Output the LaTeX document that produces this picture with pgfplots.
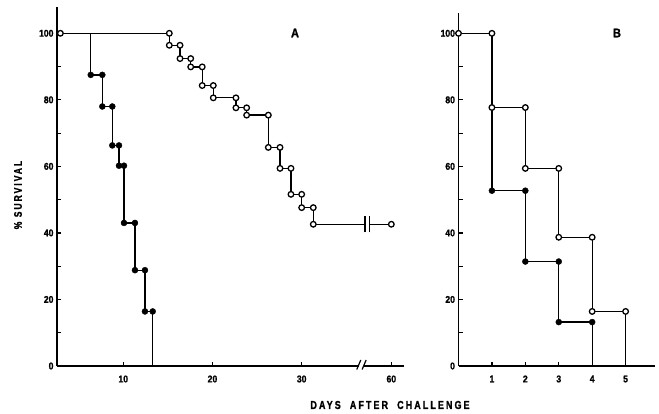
\documentclass[border=0pt]{standalone}
\usepackage{fontspec}
\setmainfont{Liberation Sans}
\newfontfamily\tickfont[FakeStretch=0.88,FakeBold=1.2]{Liberation Sans}
\newfontfamily\labfont[FakeStretch=0.78,LetterSpace=18,FakeBold=1.2]{Liberation Sans}
\usepackage{pgfplots}
\pgfplotsset{compat=1.18}
\pgfplotsset{
  panel/.style={
    scale only axis,
    axis x line=bottom, axis y line=left,
    axis line style={-, line width=1.4pt},
    tick style={line width=1.2pt, black},
    tick align=inside,
    major tick length=4pt, minor tick length=4pt,
    ymin=0,
    ytick={0,20,...,100},
    minor ytick={10,30,50,70,90},
    ticklabel style={font=\tickfont\bfseries\fontsize{9.8}{10}\selectfont},
    xticklabel style={yshift=-6pt},
    /pgf/number format/assume math mode=true,
    clip=false,
  },
  dataline/.style={black, line width=1.3pt, no marks},
  fdots/.style={only marks, mark=*, mark size=3pt, black},
  odots/.style={only marks, mark=*, mark size=2.8pt, black, mark options={fill=white, line width=1.3pt}},
}
\begin{document}
\begin{tikzpicture}
\path[use as bounding box] (0,0) rectangle (659pt,-413pt);
% Panel A
\begin{axis}[panel,
  at={(57pt,-366pt)}, anchor=south west,
  width=347pt, height=359pt,
  xmin=2.57, xmax=41.47, ymax=107.9,
  xtick={10,20,30,40.05}, xticklabels={10,20,30,60},
]
\addplot[dataline] coordinates {
(2.95,100) (6.35,100) (6.35,87.5) (7.65,87.5) (7.65,78) (8.77,78) (8.77,66.3) (9.52,66.3)
(9.52,60.2) (10.08,60.2) (10.08,43) (11.31,43) (11.31,28.8) (12.43,28.8) (12.43,16.4) (13.3,16.4) (13.3,0)};
\addplot[dataline] coordinates {
(2.95,100) (15.16,100) (15.16,96.4) (16.36,96.4) (16.36,92.4) (17.56,92.4) (17.56,89.9) (18.85,89.9)
(18.85,84.3) (20.09,84.3) (20.09,80.6) (22.63,80.6) (22.63,77.6) (23.83,77.6) (23.83,75.4) (26.26,75.4)
(26.26,65.7) (27.57,65.7) (27.57,59.4) (28.80,59.4) (28.80,51.6) (30.0,51.6) (30.0,47.6) (31.30,47.6)
(31.30,42.6) (40.05,42.6)};
\addplot[fdots] coordinates {
(6.35,87.5) (7.65,87.5) (7.65,78) (8.77,78) (8.77,66.3) (9.52,66.3)
(9.52,60.2) (10.08,60.2) (10.08,43) (11.31,43) (11.31,28.8) (12.43,28.8) (12.43,16.4) (13.3,16.4)};
\addplot[odots] coordinates {
(2.95,100) (15.16,100) (15.16,96.4) (16.36,96.4) (16.36,92.4) (17.56,92.4) (17.56,89.9) (18.85,89.9)
(18.85,84.3) (20.09,84.3) (20.09,80.6) (22.63,80.6) (22.63,77.6) (23.83,77.6) (23.83,75.4) (26.26,75.4)
(26.26,65.7) (27.57,65.7) (27.57,59.4) (28.80,59.4) (28.80,51.6) (30.0,51.6) (30.0,47.6) (31.30,47.6)
(31.30,42.6) (40.05,42.6)};
% break marks
\fill[white] (axis cs:37.1,40.5) rectangle (axis cs:37.6,44.7);
\draw[line width=1.2pt] (axis cs:37.1,40.2) -- (axis cs:37.1,45.0);
\draw[line width=1.2pt] (axis cs:37.6,40.2) -- (axis cs:37.6,45.0);
\fill[white] ([yshift=-1pt]axis cs:36.4,0) rectangle ([yshift=1pt]axis cs:37.0,0);
\draw[line width=1.2pt] ([xshift=-2pt,yshift=-3.5pt]axis cs:36.4,0) -- ([xshift=2pt,yshift=6pt]axis cs:36.4,0);
\draw[line width=1.2pt] ([xshift=-2pt,yshift=-3.5pt]axis cs:37.0,0) -- ([xshift=2pt,yshift=6pt]axis cs:37.0,0);
\end{axis}
% Panel B
\begin{axis}[panel,
  at={(458.5pt,-366pt)}, anchor=south west,
  width=196.5pt, height=353.3pt,
  xmin=0, xmax=5.88, ymax=106.2,
  xtick={1,2,3,4,5},
]
\addplot[dataline] coordinates {
(1,100) (1,52.7) (2,52.7) (2,31.4) (3,31.4) (3,13.2) (4,13.2) (4,0)};
\addplot[dataline] coordinates {
(0,100) (1,100) (1,77.7) (2,77.7) (2,59.4) (3,59.4) (3,38.7) (4,38.7) (4,16.4) (5,16.4) (5,0)};
\addplot[fdots] coordinates {
(1,52.7) (2,52.7) (2,31.4) (3,31.4) (3,13.2) (4,13.2)};
\addplot[odots] coordinates {
(0,100) (1,100) (1,77.7) (2,77.7) (2,59.4) (3,59.4) (3,38.7) (4,38.7) (4,16.4) (5,16.4)};
\end{axis}
% labels
\node[rotate=90, font=\labfont\bfseries\fontsize{11}{12}\selectfont] at (18pt,-195pt) {\%\ SURVIVAL};
\node[font=\labfont\bfseries\fontsize{11.5}{12}\selectfont] at (390pt,-405pt) {DAYS\ \ AFTER\ \ CHALLENGE};
\node[font=\tickfont\bfseries\fontsize{12.5}{13}\selectfont] at (295pt,-33pt) {A};
\node[font=\tickfont\bfseries\fontsize{12.5}{13}\selectfont] at (617pt,-33pt) {B};
\end{tikzpicture}
\end{document}
